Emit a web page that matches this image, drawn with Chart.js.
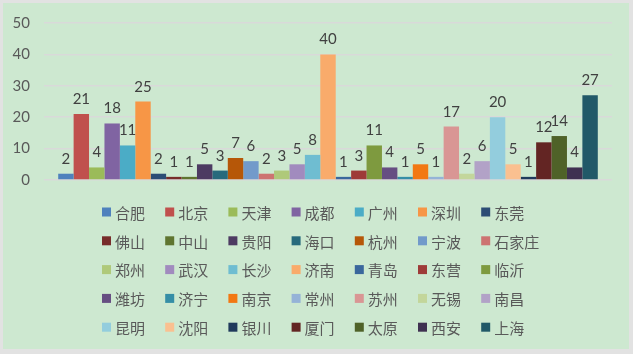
<!DOCTYPE html>
<html>
<head>
<meta charset="utf-8">
<script src="https://cdn.jsdelivr.net/npm/chart.js@4/dist/chart.umd.min.js"></script>
<style>
  html, body { margin: 0; padding: 0; background: #e2e2e2; }
  #wrap { position: absolute; left: 0; top: 0; width: 633px; height: 354px; }
</style>
</head>
<body>
<div id="wrap"><canvas id="myChart" width="633" height="354"></canvas></div>
<script>
const cities = ['合肥', '北京', '天津', '成都', '广州', '深圳', '东莞',
                '佛山', '中山', '贵阳', '海口', '杭州', '宁波', '石家庄',
                '郑州', '武汉', '长沙', '济南', '青岛', '东营', '临沂',
                '潍坊', '济宁', '南京', '常州', '苏州', '无锡', '南昌',
                '昆明', '沈阳', '银川', '厦门', '太原', '西安', '上海'];
const counts = [2, 21, 4, 18, 11, 25, 2,
                1, 1, 5, 3, 7, 6, 2,
                3, 5, 8, 40, 1, 3, 11,
                4, 1, 5, 1, 17, 2, 6,
                20, 5, 1, 12, 14, 4, 27];
const yTicks = [0, 10, 20, 30, 40, 50];

const colors = ['#4F81BD', '#C0504D', '#9BBB59', '#8064A2', '#4BACC6', '#F79646', '#2C4D75',
                '#772C2A', '#5F7530', '#4D3B62', '#276A7C', '#B65708', '#729ACA', '#CD7371',
                '#AFC97A', '#A18BBE', '#6FBDD1', '#F9AB6B', '#3A679C', '#9E3B38', '#7E9A3F',
                '#664E82', '#358EA6', '#F27813', '#95B3D7', '#D99694', '#C3D69B', '#B2A2C7',
                '#93CDDD', '#FAC090', '#203A5C', '#632523', '#4F6228', '#3F3151', '#215968'];

const numFont = 'Lato, "Liberation Sans", sans-serif';
const cjkFont = '"Noto Sans CJK SC", sans-serif';

// background panel with thin grey frame
const bgPlugin = {
    id: 'bg',
    beforeDraw(chart) {
        const c = chart.ctx;
        c.save();
        c.fillStyle = '#e2e2e2';
        c.fillRect(0, 0, chart.width, chart.height);
        c.fillStyle = '#cde8d0';
        c.fillRect(3, 3, 626, 346);
        c.restore();
    }
};

// value labels above the bars
const valuePlugin = {
    id: 'values',
    afterDatasetsDraw(chart) {
        const c = chart.ctx;
        c.save();
        c.font = '15px ' + numFont;
        c.fillStyle = '#404040';
        c.textAlign = 'center';
        c.textBaseline = 'alphabetic';
        chart.data.datasets.forEach((ds, i) => {
            const bar = chart.getDatasetMeta(i).data[0];
            c.fillText(String(ds.data[0]), bar.x, bar.y - 10);
        });
        c.restore();
    }
};

// 7-column legend grid under the plot
const gridLegend = {
    id: 'gridLegend',
    afterDraw(chart) {
        const c = chart.ctx;
        c.save();
        c.font = '15px ' + cjkFont;
        c.textBaseline = 'middle';
        c.textAlign = 'left';
        chart.data.datasets.forEach((ds, i) => {
            const col = i % 7, row = Math.floor(i / 7);
            const x = 102 + col * 63.2;
            const y = 212 + row * 28.8;
            c.fillStyle = ds.backgroundColor;
            c.fillRect(x, y - 4.5, 9, 9);
            c.fillStyle = '#595959';
            c.fillText(ds.label, x + 13, y + 1);
        });
        c.restore();
    }
};

const data = {
    labels: [''],
    datasets: cities.map((name, i) => ({
        label: name,
        data: [counts[i]],
        backgroundColor: colors[i],
    })),
};

const config = {
    type: 'bar',
    data: data,
    options: {
        responsive: false,
        animation: false,
        categoryPercentage: 0.95,
        barPercentage: 1,
        layout: {
            padding: { left: 0, right: 21, top: 22, bottom: 174 },
        },
        plugins: {
            legend: { display: false },
            tooltip: { enabled: false },
        },
        scales: {
            x: { display: false },
            y: {
                min: 0,
                max: 50,
                afterBuildTicks: (scale) => {
                    scale.ticks = yTicks.map(v => ({ value: v }));
                },
                afterFit: (scale) => { scale.width = 44; },
                border: { display: false },
                grid: { color: '#d9d9d9', lineWidth: 1.5, drawTicks: false },
                ticks: {
                    padding: 14,
                    color: '#595959',
                    font: { family: numFont, size: 15 },
                },
            },
        },
    },
    plugins: [bgPlugin, valuePlugin, gridLegend],
};

const ctx = document.getElementById('myChart').getContext('2d');
const myChart = new Chart(ctx, config);
</script>
</body>
</html>
